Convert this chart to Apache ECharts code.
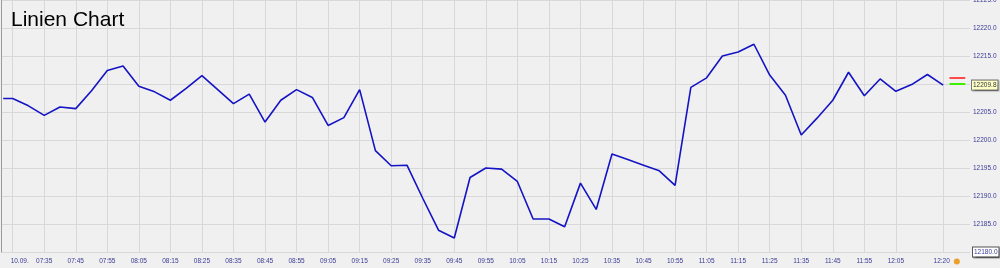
<!DOCTYPE html>
<html><head><meta charset="utf-8">
<script src="https://cdn.jsdelivr.net/npm/echarts@6/dist/echarts.min.js"></script>
<style>html,body{margin:0;padding:0;background:#f0f0f0}#c{width:1000px;height:268px}</style>
</head><body><div id="c"></div>
<script>
const times = ['07:22','07:25','07:30','07:35','07:40','07:45','07:50','07:55','08:00','08:05','08:10','08:15','08:20','08:25','08:30','08:35','08:40','08:45','08:50','08:55','09:00','09:05','09:10','09:15','09:20','09:25','09:30','09:35','09:40','09:45','09:50','09:55','10:00','10:05','10:10','10:15','10:20','10:25','10:30','10:35','10:40','10:45','10:50','10:55','11:00','11:05','11:10','11:15','11:20','11:25','11:30','11:35','11:40','11:45','11:50','11:55','12:00','12:05','12:10','12:15','12:20'];
const prices = [12207.4,12207.4,12206.1,12204.4,12205.9,12205.6,12208.8,12212.4,12213.2,12209.6,12208.6,12207.1,12209.2,12211.5,12209.0,12206.5,12208.2,12203.2,12207.1,12209.0,12207.6,12202.6,12204.0,12209.0,12198.1,12195.4,12195.5,12189.6,12183.9,12182.5,12193.3,12195.0,12194.8,12192.6,12185.9,12185.9,12184.5,12192.3,12187.6,12197.5,12196.5,12195.5,12194.5,12191.9,12209.4,12211.1,12215.0,12215.7,12217.1,12211.6,12208.0,12200.9,12203.9,12207.1,12212.1,12207.9,12210.9,12208.7,12209.9,12211.7,12209.8];
const tickTimes = ['07:25','07:35','07:45','07:55','08:05','08:15','08:25','08:35','08:45','08:55','09:05','09:15','09:25','09:35','09:45','09:55','10:05','10:15','10:25','10:35','10:45','10:55','11:05','11:15','11:25','11:35','11:45','11:55','12:05','12:20'];
const tickLabels = ['10.09.','07:35','07:45','07:55','08:05','08:15','08:25','08:35','08:45','08:55','09:05','09:15','09:25','09:35','09:45','09:55','10:05','10:15','10:25','10:35','10:45','10:55','11:05','11:15','11:25','11:35','11:45','11:55','12:05','12:20'];
const yMin = 12180, yMax = 12225, yStep = 5;
const lastPrice = 12209.8;
const askPrice = 12211.1, bidPrice = 12210.0;
const quoteFrom = '12:22', quoteTo = '12:27';

function toMin(s){ const p = s.split(':'); return (+p[0])*60 + (+p[1]); }
const tickMins = tickTimes.map(toMin);
const seriesData = times.map((t,i)=>[toMin(t), prices[i]]);
const labelColor = '#3a3a96';
const font = 'Liberation Sans, Arial, sans-serif';

const chart = echarts.init(document.getElementById('c'), null, {renderer:'canvas'});
chart.setOption({
  animation: false,
  backgroundColor: '#f0f0f0',
  title: {text:'Linien Chart', left: 11, top: 10, padding: 0,
    textStyle:{fontSize:21, fontWeight:'normal', color:'#000', fontFamily: font}},
  grid: {left: 1, right: 30, top: 0, bottom: 16, containLabel: false, outerBoundsMode: 'none'},
  xAxis: {
    type:'value', min: 441.3, max: 748.5,
    axisLine:{show:false},
    axisTick:{show:false, customValues: tickMins},
    splitLine:{show:true, lineStyle:{color:'#d8d8d8', width:1}},
    axisLabel:{
      customValues: tickMins, margin: 6, color: labelColor, fontSize: 6.5, fontFamily: font,
      formatter: function(v){
        const i = tickMins.indexOf(v);
        if (i === 0) return '{d|' + tickLabels[0] + '}';
        if (i === tickMins.length-1) return '{t|' + tickLabels[i] + '}{ic|}';
        return i >= 0 ? tickLabels[i] : '';
      },
      rich: {
        d:{padding:[0,0,0,14], color: labelColor, fontSize:6.5, fontFamily: font},
        t:{padding:[0,4,0,7], color: labelColor, fontSize:6.5, fontFamily: font},
        ic:{width:6, height:6, backgroundColor:'#e9a12a', borderRadius:3}
      }
    }
  },
  yAxis: [{
    type:'value', position:'right', min: yMin, max: yMax, interval: yStep,
    axisLine:{show:false}, axisTick:{show:false},
    splitLine:{show:true, lineStyle:{color:'#d8d8d8', width:1}},
    axisLabel:{
      margin: 3, color: labelColor, fontSize: 6.5, fontFamily: font, showMinLabel:true, showMaxLabel:true,
      formatter: function(v){
        if (Math.abs(v-10*Math.round(lastPrice/10))<1e-6) return '';
        if (v === yMin) return '{b|' + v.toFixed(1) + '}';
        return v.toFixed(1);
      },
      rich: {
        b:{backgroundColor:'#ffffff', borderColor:'#555', borderWidth:1, padding:[1,1,1,1],
           color: labelColor, fontSize:6.5, fontFamily: font,
           shadowColor:'rgba(0,0,0,0.35)', shadowBlur:1, shadowOffsetX:1, shadowOffsetY:1}
      }
    }
  },{
    type:'value', position:'left', min: yMin, max: yMax,
    axisLine:{show:true, lineStyle:{color:'#9a9a9a', width:1}},
    axisTick:{show:false}, axisLabel:{show:false}, splitLine:{show:false}
  }],
  series: [{
    type:'line', data: seriesData, showSymbol:false, yAxisIndex:0,
    lineStyle:{color:'#1414c4', width:1.6},
    markLine: {
      silent:true, symbol:['none','none'], animation:false,
      data: [
        {yAxis: lastPrice, lineStyle:{color:'rgba(0,0,0,0)', width:1},
         label:{show:true, position:'end', distance:2, formatter: lastPrice.toFixed(1),
           backgroundColor:'#ffffc8', borderColor:'#777', borderWidth:1, padding:[1,1,1,1],
           color:'#333', fontSize:6.5, fontFamily: font,
           shadowColor:'rgba(0,0,0,0.3)', shadowBlur:1, shadowOffsetX:1, shadowOffsetY:1}},
        [{coord:[toMin(quoteFrom), askPrice], lineStyle:{color:'#ff4a4a', width:2, type:'solid'}, label:{show:false}},
         {coord:[toMin(quoteTo), askPrice]}],
        [{coord:[toMin(quoteFrom), bidPrice], lineStyle:{color:'#3cf000', width:2, type:'solid'}, label:{show:false}},
         {coord:[toMin(quoteTo), bidPrice]}]
      ]
    }
  }]
});
</script></body></html>
